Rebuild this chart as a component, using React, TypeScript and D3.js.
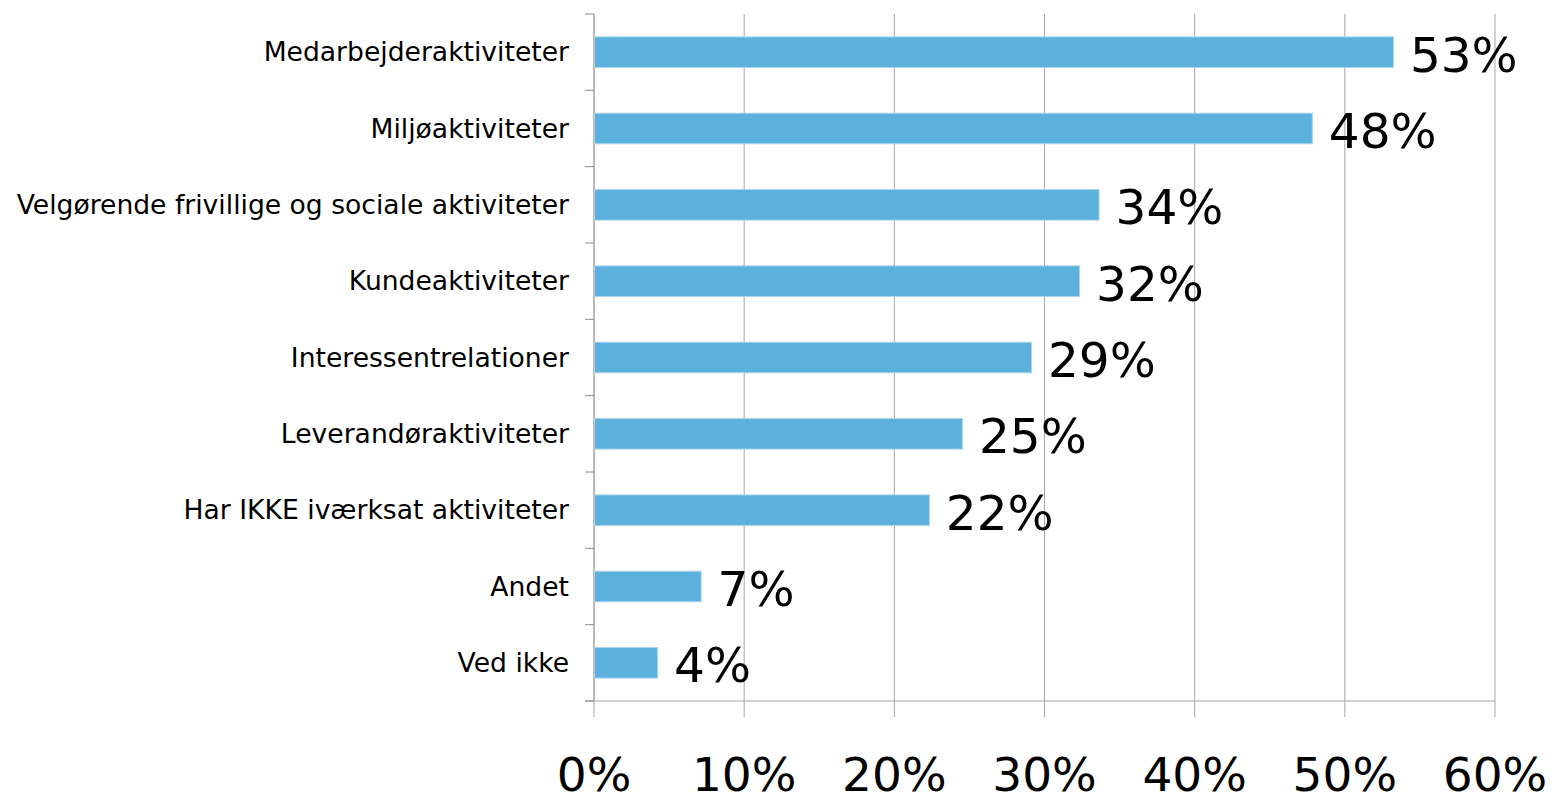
import React from "react";
import * as d3 from "d3";

const categories = [
  "Medarbejderaktiviteter",
  "Miljøaktiviteter",
  "Velgørende frivillige og sociale aktiviteter",
  "Kundeaktiviteter",
  "Interessentrelationer",
  "Leverandøraktiviteter",
  "Har IKKE iværksat aktiviteter",
  "Andet",
  "Ved ikke",
];
const values = [53.2, 47.8, 33.6, 32.3, 29.1, 24.5, 22.3, 7.1, 4.2];
const xTicks = [0, 10, 20, 30, 40, 50, 60];

const App = () => {
  const width = 1553;
  const height = 802;
  const margin = { top: 14, right: 58, bottom: 101, left: 594 };
  const plotW = width - margin.left - margin.right;
  const plotH = height - margin.top - margin.bottom;

  const xScale = d3.scaleLinear().domain([0, 60]).range([0, plotW]);
  const yScale = d3
    .scaleBand()
    .domain(categories)
    .range([0, plotH])
    .paddingInner(0.6)
    .paddingOuter(0.3);

  const bandEdges = d3.range(categories.length + 1).map((i) => i * (plotH / categories.length));
  const font = "'DejaVu Sans', Verdana, sans-serif";

  return (
    <div style={{ position: "fixed", left: 0, top: 0 }}>
      <svg width={width} height={height} style={{ display: "block", background: "#fff" }}>
        <g transform={`translate(${margin.left},${margin.top})`}>
          {/* grid */}
          {xTicks.slice(1).map((t) => (
            <line
              key={t}
              x1={xScale(t)}
              x2={xScale(t)}
              y1={0}
              y2={plotH + 16}
              stroke="#a6a6a6"
              strokeWidth={1}
            />
          ))}
          <line x1={0} x2={0} y1={plotH} y2={plotH + 16} stroke="#a6a6a6" />
          <line x1={-9} x2={plotW} y1={plotH} y2={plotH} stroke="#a6a6a6" />
          {/* y axis */}
          <line x1={0} x2={0} y1={0} y2={plotH} stroke="#8c8c8c" strokeWidth={1.2} />
          {bandEdges.map((y, i) => (
            <line key={i} x1={-9} x2={0} y1={y} y2={y} stroke="#8c8c8c" />
          ))}
          {/* bars */}
          {categories.map((c, i) => (
            <rect
              key={c}
              x={0.5}
              y={yScale(c)}
              width={xScale(values[i])}
              height={yScale.bandwidth()}
              fill="#5bb1dc"
              stroke="#a9d4ec"
              strokeWidth={1}
            />
          ))}
          {/* value labels */}
          {categories.map((c, i) => (
            <text
              key={c}
              x={xScale(values[i]) + 17}
              y={(yScale(c) as number) + yScale.bandwidth() / 2 + 19.5}
              fontFamily={font}
              fontSize={48.5}
              fill="#000"
            >
              {Math.round(values[i])}%
            </text>
          ))}
          {/* category labels */}
          {categories.map((c) => (
            <text
              key={c}
              x={-25}
              y={(yScale(c) as number) + yScale.bandwidth() / 2 + 9}
              textAnchor="end"
              fontFamily={font}
              fontSize={26.6}
              fill="#000"
            >
              {c}
            </text>
          ))}
          {/* x tick labels */}
          {xTicks.map((t) => (
            <text
              key={t}
              x={xScale(t)}
              y={plotH + 90}
              textAnchor="middle"
              fontFamily={font}
              fontSize={47}
              fill="#000"
            >
              {t}%
            </text>
          ))}
        </g>
      </svg>
    </div>
  );
};

export default App;
